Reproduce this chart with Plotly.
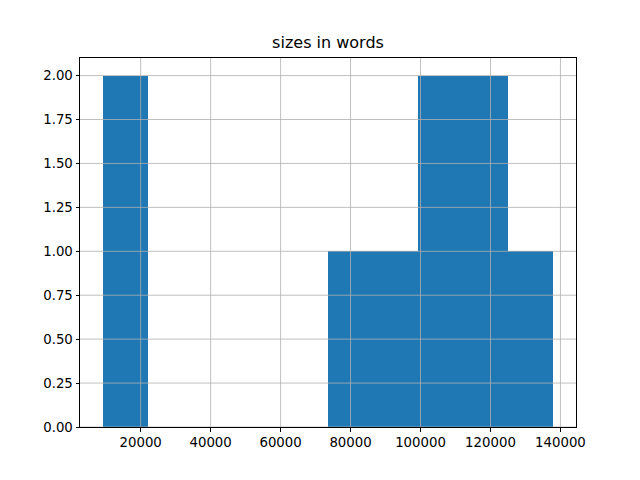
import plotly.graph_objects as go

# word counts of the documents
sizes_in_words = [9100, 17000, 80000, 93000, 104000, 110000, 118000, 122000, 133000]
bin_start = 9100
bin_end = 138000
n_bins = 10

x_ticks = [20000, 40000, 60000, 80000, 100000, 120000, 140000]
y_ticks = [0.0, 0.25, 0.5, 0.75, 1.0, 1.25, 1.5, 1.75, 2.0]

fig = go.Figure(go.Histogram(
    x=sizes_in_words,
    xbins=dict(start=bin_start, end=bin_end, size=(bin_end - bin_start) / n_bins),
    marker=dict(color="#1f77b4", line=dict(width=0)),
))

axis_common = dict(
    showline=True, linecolor="black", linewidth=1, mirror=True,
    ticks="outside", ticklen=3.5, tickwidth=0.8, tickcolor="black",
    showgrid=False,
    zeroline=False, layer="above traces",
    tickfont=dict(family="DejaVu Sans", size=13.3, color="black"),
)

pad = (bin_end - bin_start) * 0.05
fig.update_xaxes(range=[bin_start - pad, bin_end + pad], tickvals=x_ticks,
                 ticktext=[str(v) for v in x_ticks], **axis_common)
fig.update_yaxes(range=[0, 2.1], tickvals=y_ticks,
                 ticktext=[f"{v:.2f}" for v in y_ticks], **axis_common)

# grid lines drawn above the bars (as matplotlib/pandas does), placed at the tick values
grid_style = dict(color="#b0b0b0", width=0.8)
for xv in x_ticks:
    fig.add_shape(type="line", layer="above", xref="x", yref="y domain",
                  x0=xv, x1=xv, y0=0, y1=1, line=grid_style)
for yv in y_ticks:
    fig.add_shape(type="line", layer="above", xref="x domain", yref="y",
                  x0=0, x1=1, y0=yv, y1=yv, line=grid_style)

fig.update_layout(
    width=640, height=480,
    margin=dict(l=72, r=72, t=50, b=61),
    paper_bgcolor="white", plot_bgcolor="white",
    bargap=0, showlegend=False,
    title=dict(text="sizes in words", x=0.5, xanchor="center", y=1 - 40 / 480, yanchor="bottom",
               font=dict(family="DejaVu Sans", size=16, color="black")),
)

fig.write_html("out.html")
